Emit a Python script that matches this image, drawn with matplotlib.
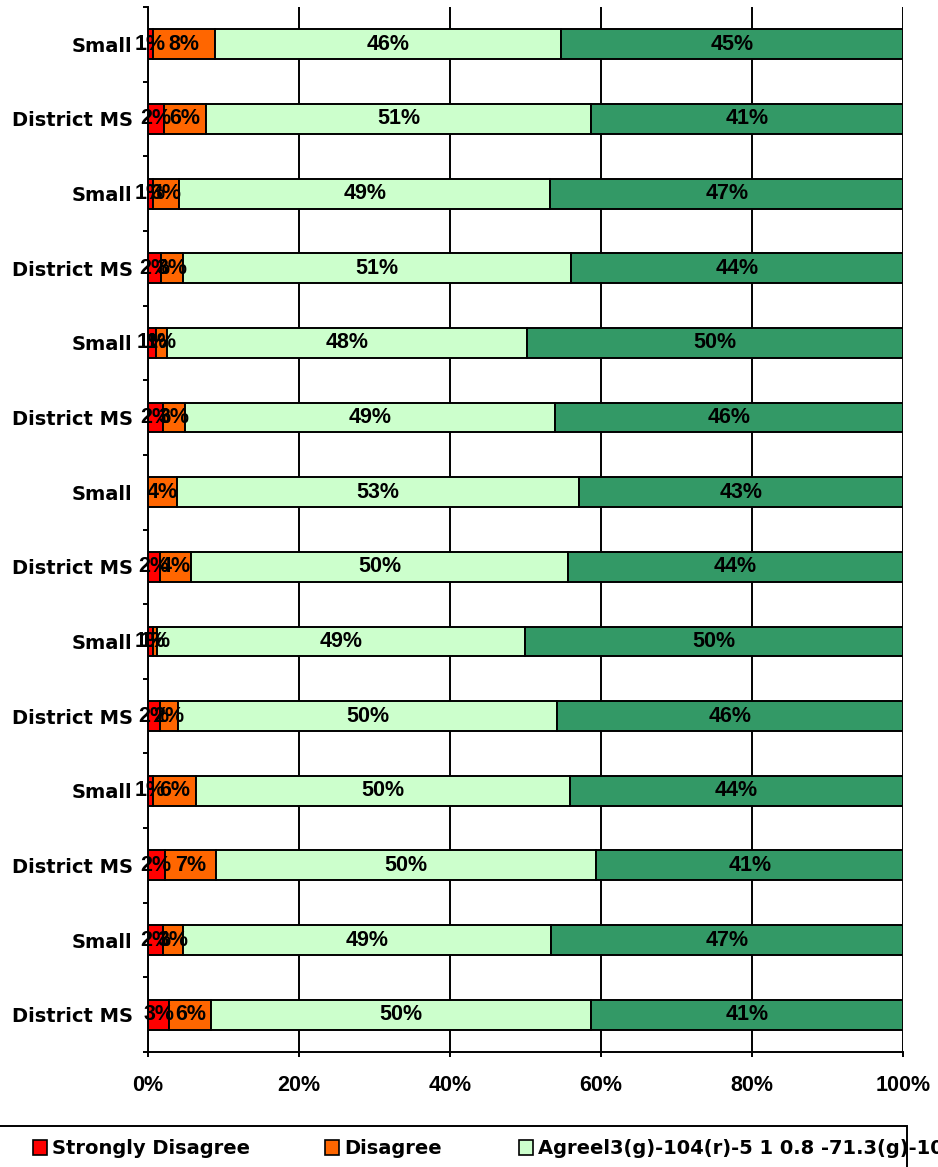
import numpy as np
import matplotlib.pyplot as plt
from matplotlib.patches import Rectangle
from matplotlib.ticker import FuncFormatter

# rows from top to bottom
categories = ['Small', 'District MS'] * 7
series_names = ['Strongly Disagree', 'Disagree',
                'Agreel3(g)-104(r)-5 1 0.8 -71.3(g)-1066', 'Strongly Agree']
colors = ['#FF0000', '#FF6600', '#CCFFCC', '#339966']

strongly_disagree = [0.7, 2.1, 0.7, 1.7, 1.1, 2.0, 0.0, 1.6, 0.6, 1.6, 0.7, 2.2, 2.0, 2.8]
disagree = [8.2, 5.6, 3.4, 2.9, 1.4, 2.9, 3.8, 4.1, 0.6, 2.4, 5.6, 6.8, 2.7, 5.6]
agree = [45.8, 51.0, 49.2, 51.4, 47.7, 49.0, 53.3, 49.9, 48.7, 50.2, 49.6, 50.4, 48.7, 50.3]
strongly_agree = [45.3, 41.3, 46.7, 44.0, 49.8, 46.1, 42.9, 44.4, 50.1, 45.8, 44.1, 40.6, 46.6, 41.3]

W, H = 938, 1167
fig = plt.figure(figsize=(W / 100, H / 100), dpi=100)
ax = fig.add_axes([148 / W, 1 - 1052 / H, (903 - 148) / W, (1052 - 7) / H])

lw = 1.4
label_font = dict(family='Liberation Sans', weight='bold', size=15.5)
cat_font = dict(family='DejaVu Sans', weight='bold', size=14)

y = np.arange(len(categories))
left = np.zeros(len(categories))
for vals, col in zip([strongly_disagree, disagree, agree, strongly_agree], colors):
    vals = np.array(vals)
    ax.barh(y, vals, left=left, height=0.40, color=col, edgecolor='black',
            linewidth=lw, zorder=3)
    for yi, l, v in zip(y, left, vals):
        if v > 0:
            ax.text(l + v / 2, yi, f"{round(v)}%", ha='center', va='center',
                    zorder=4, **label_font)
    left = left + vals

ax.set_xlim(0, 100)
ax.set_ylim(len(categories) - 0.5, -0.5)
ax.set_xticks(np.arange(0, 101, 20))
ax.xaxis.set_major_formatter(FuncFormatter(lambda v, p: f"{int(v)}%"))
ax.set_yticks(y)
ax.set_yticklabels(categories, **cat_font)
ax.set_yticks(np.arange(-0.5, len(categories), 1), minor=True)
for t in ax.get_xticklabels():
    t.set_fontproperties('Liberation Sans')
    t.set_fontweight('bold')
    t.set_fontsize(15.5)

ax.tick_params(axis='y', which='major', length=0, pad=11)
ax.tick_params(axis='y', which='minor', length=3.6, width=lw, direction='out')
ax.tick_params(axis='x', length=3.6, width=lw, direction='out', pad=13)

ax.xaxis.grid(True, color='black', linewidth=lw)
ax.set_axisbelow(True)
for s in ['top', 'right']:
    ax.spines[s].set_visible(False)
for s in ['left', 'bottom']:
    ax.spines[s].set_linewidth(lw)

# legend drawn by hand, Excel style (box runs off the picture)
fig.patches.append(Rectangle((-10 / W, -20 / H), (907 + 10) / W, (H - 1126 + 20) / H,
                             transform=fig.transFigure, facecolor='white',
                             edgecolor='black', linewidth=lw, zorder=1))
legend_x = [33, 325, 519]
for x0, name, col in zip(legend_x, series_names[:3], colors[:3]):
    fig.patches.append(Rectangle((x0 / W, 1 - 1155 / H), 14 / W, 15 / H,
                                 transform=fig.transFigure, facecolor=col,
                                 edgecolor='black', linewidth=1.2, zorder=2))
    fig.text((x0 + 19) / W, 1 - 1148 / H, name, ha='left', va='center',
             zorder=3, **cat_font)

fig.savefig('out.png', dpi=100)
